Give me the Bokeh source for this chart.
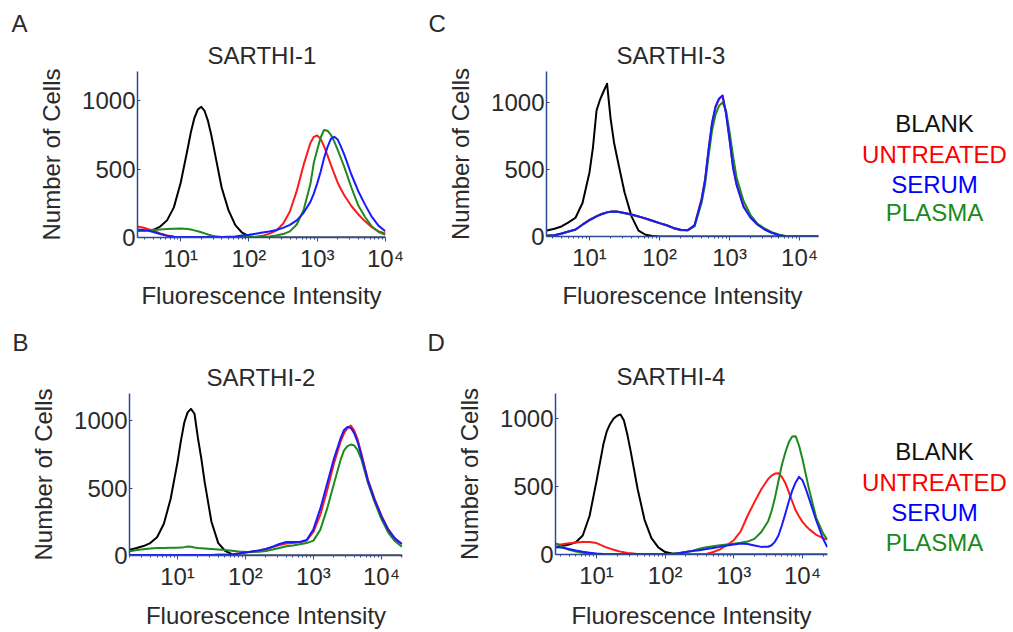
from bokeh.plotting import figure
from bokeh.models import Range1d, FixedTicker, Title
from bokeh.layouts import row, column
from bokeh.embed import file_html
from bokeh.resources import INLINE
from bokeh.core.properties import value

FONT = "Liberation Sans"
TXT = "#2a2a2a"
AXIS = "#2c4a96"

groups = ["BLANK", "UNTREATED", "SERUM", "PLASMA"]
line_colors = {"BLANK": "#000000", "UNTREATED": "#ff1a1a", "SERUM": "#1a1aff", "PLASMA": "#1c8a1c"}
legend_colors = ["#111111", "#ff0000", "#0000ff", "#1a8a1a"]
draw_order = ["BLANK", "UNTREATED", "PLASMA", "SERUM"]

x_tick_values = [10, 100, 1000, 10000]
x_tick_labels = ["10¹", "10²", "10³", "10⁴"]
y_tick_values = [0, 500, 1000]

# ---------------- SARTHI-1 (A) ----------------
sarthi1_intensity = [2.34, 3.16, 3.98, 5.01, 6.31, 7.94, 10, 12.6, 14.1, 15.8, 17.8, 20.0, 22.4, 25.1, 28.2, 31.6,
                     39.8, 50.1, 63.1, 79.4, 100, 126, 158, 200, 251, 316, 398, 501, 631, 794, 891, 1000, 1122, 1259,
                     1413, 1585, 1778, 1995, 2239, 2512, 3162, 3981, 5012, 6310, 7943, 10000]
sarthi1_blank = [50, 52, 56, 80, 125, 220, 400, 644, 768, 869, 934, 954, 924, 851, 744, 618,
                 365, 200, 90, 35, 10, 2, 0, 0, 0, 0, 0, 0, 0, 0, 0, 0, 0, 0,
                 0, 0, 0, 0, 0, 0, 0, 0, 0, 0, 0, 0]
sarthi1_untreated = [80, 65, 50, 30, 15, 6, 3, 2, 2, 2, 2, 2, 2, 2, 2, 2,
                     2, 2, 3, 3, 4, 6, 12, 28, 50, 100, 190, 340, 530, 690, 735, 745, 720, 665,
                     600, 530, 465, 400, 350, 305, 230, 170, 118, 75, 45, 30]
sarthi1_serum = [58, 52, 40, 25, 12, 5, 3, 3, 3, 3, 3, 3, 3, 3, 3, 3,
                 3, 5, 8, 14, 20, 28, 36, 44, 55, 70, 92, 125, 180, 260, 320, 395, 480, 580,
                 660, 720, 735, 715, 660, 600, 460, 340, 240, 150, 85, 45]
sarthi1_plasma = [50, 52, 55, 58, 62, 64, 65, 62, 58, 52, 45, 38, 30, 22, 15, 9,
                  4, 3, 3, 3, 3, 3, 4, 8, 15, 25, 45, 95, 200, 390, 545, 640, 730, 785,
                  780, 750, 700, 640, 575, 510, 365, 235, 150, 80, 40, 20]

# ---------------- SARTHI-2 (B) ----------------
sarthi2_intensity = [2.0, 2.51, 3.16, 3.98, 5.01, 6.31, 7.94, 10, 11.2, 12.6, 14.1, 15.8, 17.8, 20.0, 22.4, 25.1,
                     31.6, 39.8, 50.1, 63.1, 79.4, 100, 126, 158, 200, 251, 316, 398, 501, 631, 794, 1000, 1259, 1585,
                     1995, 2512, 2818, 3162, 3548, 3981, 4467, 5012, 6310, 7943, 10000, 12589, 15849, 19953]
sarthi2_blank = [42, 55, 70, 92, 135, 235, 420, 690, 845, 985, 1060, 1086, 1050, 870, 720, 545,
                 250, 92, 35, 10, 2, 0, 0, 0, 0, 0, 0, 0, 0, 0, 0, 0, 0, 0,
                 0, 0, 0, 0, 0, 0, 0, 0, 0, 0, 0, 0, 0, 0]
sarthi2_untreated = [4, 4, 4, 4, 4, 4, 4, 4, 4, 4, 4, 4, 4, 4, 4, 4,
                     4, 5, 6, 8, 14, 22, 30, 38, 48, 62, 78, 88, 92, 98, 110, 175, 300, 480,
                     680, 845, 905, 945, 962, 925, 860, 765, 565, 420, 295, 195, 125, 85]
sarthi2_serum = [4, 4, 4, 4, 4, 4, 4, 4, 4, 4, 4, 4, 4, 4, 4, 4,
                 4, 5, 6, 8, 14, 22, 30, 38, 48, 65, 85, 100, 100, 100, 115, 195, 345, 530,
                 715, 870, 930, 952, 945, 905, 840, 750, 555, 410, 290, 190, 125, 85]
sarthi2_plasma = [32, 40, 46, 52, 55, 56, 57, 58, 60, 62, 66, 65, 60, 56, 54, 52,
                  48, 44, 40, 35, 30, 27, 26, 28, 34, 44, 56, 68, 74, 84, 92, 110, 190, 345,
                  530, 710, 778, 810, 822, 815, 780, 720, 540, 395, 270, 170, 105, 65]

# ---------------- SARTHI-3 (C) ----------------
sarthi3_intensity = [2.45, 3.16, 3.98, 5.01, 6.31, 7.94, 10, 11.2, 12.6, 14.1, 15.8, 17.8, 20.0, 22.4, 25.1, 31.6,
                     39.8, 50.1, 63.1, 79.4, 100, 126, 158, 200, 251, 316, 398, 447, 501, 562, 631, 708, 794, 891,
                     1000, 1122, 1259, 1585, 1995, 2512, 3162, 3981, 5012, 6310, 7943, 10000, 12589, 18621]
sarthi3_blank = [45, 58, 75, 105, 140, 250, 480, 665, 940, 1020, 1080, 1140, 880, 700, 575, 330,
                 150, 44, 13, 4, 0, 0, 0, 0, 0, 0, 0, 0, 0, 0, 0, 0, 0, 0,
                 0, 0, 0, 0, 0, 0, 0, 0, 0, 0, 0, 0, 0, 0]
sarthi3_untreated = [5, 10, 22, 38, 50, 90, 125, 138, 152, 163, 172, 180, 184, 187, 186, 174,
                     162, 148, 132, 116, 100, 84, 62, 47, 46, 85, 280, 420, 640, 840, 965, 1025, 1050, 920,
                     730, 520, 390, 225, 145, 90, 55, 30, 10, 2, 0, 0, 0, 0]
sarthi3_serum = [5, 10, 22, 38, 52, 88, 122, 136, 150, 162, 172, 180, 184, 186, 185, 176,
                 164, 150, 135, 118, 100, 84, 64, 50, 46, 82, 275, 425, 650, 850, 970, 1030, 1052, 915,
                 720, 510, 385, 220, 140, 88, 52, 28, 10, 2, 0, 0, 0, 0]
sarthi3_plasma = [5, 10, 20, 36, 52, 88, 122, 136, 150, 162, 172, 180, 184, 186, 185, 176,
                  164, 150, 135, 118, 100, 84, 64, 50, 46, 75, 250, 390, 600, 790, 910, 975, 1000, 940,
                  780, 600, 440, 265, 160, 95, 60, 32, 15, 4, 0, 0, 0, 0]

# ---------------- SARTHI-4 (D) ----------------
sarthi4_intensity = [2.57, 3.16, 3.98, 5.01, 6.31, 7.94, 10, 12.6, 14.1, 15.8, 17.8, 20.0, 22.4, 25.1, 28.2, 31.6,
                     39.8, 50.1, 63.1, 79.4, 100, 126, 158, 200, 251, 316, 398, 501, 631, 794, 1000, 1259, 1585,
                     1995, 2512, 3162, 3548, 3981, 4467, 5012, 5623, 6310, 7079, 7943, 8913, 10000, 11220, 12589,
                     15849, 19953, 22909]
sarthi4_blank = [51, 62, 74, 90, 140, 285, 540, 810, 905, 960, 1000, 1020, 1030, 985, 880, 755,
                 480, 255, 120, 52, 18, 8, 3, 0, 0, 0, 0, 0, 0, 0, 0, 0, 0,
                 0, 0, 0, 0, 0, 0, 0, 0, 0, 0, 0, 0, 0, 0, 0,
                 0, 0, 0]
sarthi4_untreated = [74, 76, 82, 88, 92, 92, 84, 62, 51, 43, 35, 27, 21, 16, 12, 9,
                     4, 2, 0, 0, 0, 0, 0, 0, 0, 1, 4, 18, 38, 70, 105, 170, 285,
                     385, 480, 555, 580, 595, 598, 570, 525, 460, 390, 325, 280, 240, 210, 185,
                     145, 120, 110]
sarthi4_serum = [56, 50, 40, 29, 20, 13, 7, 4, 2, 2, 1, 1, 1, 1, 1, 1,
                 1, 1, 1, 1, 2, 4, 10, 18, 25, 32, 40, 48, 56, 66, 74, 81, 77,
                 66, 56, 57, 68, 95, 140, 215, 300, 390, 470, 530, 571, 545, 480, 405,
                 250, 115, 55]
sarthi4_plasma = [81, 57, 35, 22, 12, 6, 3, 2, 2, 2, 2, 2, 2, 2, 2, 2,
                  2, 2, 2, 2, 3, 6, 12, 18, 28, 42, 54, 61, 68, 74, 80, 86, 95,
                  115, 165, 245, 320, 420, 540, 660, 750, 825, 868, 870, 800, 700, 585, 470,
                  270, 155, 110]

panel_data = {
    "A": ("SARTHI-1", sarthi1_intensity, {"BLANK": sarthi1_blank, "UNTREATED": sarthi1_untreated,
                                          "SERUM": sarthi1_serum, "PLASMA": sarthi1_plasma}),
    "B": ("SARTHI-2", sarthi2_intensity, {"BLANK": sarthi2_blank, "UNTREATED": sarthi2_untreated,
                                          "SERUM": sarthi2_serum, "PLASMA": sarthi2_plasma}),
    "C": ("SARTHI-3", sarthi3_intensity, {"BLANK": sarthi3_blank, "UNTREATED": sarthi3_untreated,
                                          "SERUM": sarthi3_serum, "PLASMA": sarthi3_plasma}),
    "D": ("SARTHI-4", sarthi4_intensity, {"BLANK": sarthi4_blank, "UNTREATED": sarthi4_untreated,
                                          "SERUM": sarthi4_serum, "PLASMA": sarthi4_plasma}),
}

# layout / style per panel (pixels and axis extents)
panel_layout = {
    "A": dict(x0=2.33, x1=10000, ytop=1212, fw=248, fh=166, bl=137, br=35, bt=71, bb=74, xls=7,
              toff=70, tst=6, loff=-126, lst=0),
    "C": dict(x0=2.43, x1=18620, ytop=1231, fw=272, fh=165, bl=126, br=12, bt=71, bb=75, xls=8,
              toff=70, tst=6, loff=-118, lst=0),
    "B": dict(x0=1.97, x1=20400, ytop=1200, fw=273, fh=162, bl=129, br=18, bt=82, bb=76, xls=9,
              toff=77, tst=6, loff=-117, lst=5),
    "D": dict(x0=2.53, x1=23120, ytop=1184, fw=272, fh=161, bl=135, br=3, bt=82, bb=77, xls=10,
              toff=61, tst=7, loff=-128, lst=4),
}

minor_x = [m * 10 ** e for e in range(0, 5) for m in range(2, 10)]


def make_panel(key):
    name, xs, curves = panel_data[key]
    lay = panel_layout[key]
    p = figure(x_axis_type="log", title=None,
               x_range=Range1d(lay["x0"], lay["x1"]), y_range=Range1d(0, lay["ytop"]),
               frame_width=lay["fw"], frame_height=lay["fh"],
               min_border_left=lay["bl"], min_border_right=lay["br"],
               min_border_top=lay["bt"], min_border_bottom=lay["bb"],
               output_backend="svg", toolbar_location=None)
    p.outline_line_color = None
    p.grid.visible = False
    p.background_fill_color = "white"
    p.border_fill_color = "white"
    for g in draw_order:
        p.line(xs, curves[g], line_color=line_colors[g], line_width=2, line_join="round")

    p.add_layout(Title(text=name, align="left", offset=lay["toff"], standoff=lay["tst"],
                       text_font=FONT, text_font_size="24px", text_font_style="normal",
                       text_color=TXT), "above")
    p.add_layout(Title(text=key, align="left", offset=lay["loff"], standoff=lay["lst"],
                       text_font=FONT, text_font_size="24px", text_font_style="normal",
                       text_color=TXT), "above")

    xa = p.xaxis[0]
    xa.ticker = FixedTicker(ticks=x_tick_values, minor_ticks=minor_x)
    xa.major_label_overrides = {v: t for v, t in zip(x_tick_values, x_tick_labels)}
    xa.axis_label = "Fluorescence Intensity"
    xa.axis_label_text_font = FONT
    xa.axis_label_text_font_size = "24px"
    xa.axis_label_text_font_style = "normal"
    xa.axis_label_text_color = TXT
    xa.axis_label_standoff = lay["xls"]
    xa.major_label_text_font = FONT
    xa.major_label_text_font_size = "24px"
    xa.major_label_text_color = TXT
    xa.major_label_standoff = 3
    xa.major_tick_in = 0
    xa.major_tick_out = 4
    xa.minor_tick_in = 0
    xa.minor_tick_out = 2
    xa.axis_line_color = AXIS
    xa.axis_line_width = 1.5
    xa.major_tick_line_color = AXIS
    xa.minor_tick_line_color = AXIS

    ya = p.yaxis[0]
    ya.ticker = FixedTicker(ticks=y_tick_values)
    ya.axis_label = "Number of Cells"
    ya.axis_label_text_font = FONT
    ya.axis_label_text_font_size = "24px"
    ya.axis_label_text_font_style = "normal"
    ya.axis_label_text_color = TXT
    ya.axis_label_standoff = 14
    ya.major_label_text_font = FONT
    ya.major_label_text_font_size = "24px"
    ya.major_label_text_color = TXT
    ya.major_label_standoff = 2
    ya.major_tick_in = 3
    ya.major_tick_out = 0
    ya.minor_tick_line_color = None
    ya.axis_line_color = AXIS
    ya.axis_line_width = 1.5
    ya.major_tick_line_color = AXIS
    return p


def make_legend(x_left, x_right, top, frame_h, bottom, label_y):
    # y range is expressed in page pixels so the frame maps to the same rows as the panels
    p = figure(x_range=Range1d(x_left, x_right), y_range=Range1d(top + frame_h, top),
               frame_width=x_right - x_left, frame_height=frame_h,
               min_border_left=0, min_border_right=0, min_border_top=top, min_border_bottom=bottom,
               x_axis_location=None, y_axis_location=None, title=None,
               output_backend="svg", toolbar_location=None)
    p.outline_line_color = None
    p.grid.visible = False
    p.text(x=[934, 934, 934, 934], y=label_y, text=groups, text_color=legend_colors,
           text_font=value(FONT), text_font_size="24px", text_align="center", text_baseline="middle")
    return p


pA = make_panel("A")
pC = make_panel("C")
pB = make_panel("B")
pD = make_panel("D")
leg_top = make_legend(830, 1012, 71, 166, 74, [123, 153.5, 184, 212])
leg_bot = make_legend(830, 1012, 82, 162, 76, [451 - 311, 481.5 - 311, 512 - 311, 542 - 311])

layout = column(row(pA, pC, leg_top), row(pB, pD, leg_bot))

with open("out.html", "w") as f:
    f.write(file_html(layout, INLINE, title="SARTHI fluorescence histograms"))
